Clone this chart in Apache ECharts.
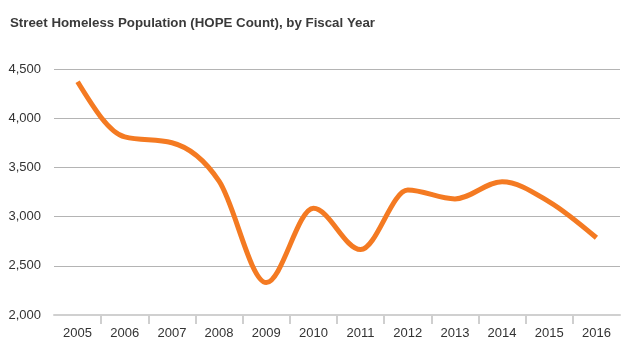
<!DOCTYPE html>
<html><head><meta charset="utf-8">
<script src="https://cdn.jsdelivr.net/npm/echarts@6/dist/echarts.min.js"></script>
<style>html,body{margin:0;padding:0;background:#fff}#c{width:628px;height:357px}</style>
</head><body><div id="c"></div>
<script>
const titleText = 'Street Homeless Population (HOPE Count), by Fiscal Year';
const years = ['2005','2006','2007','2008','2009','2010','2011','2012','2013','2014','2015','2016'];
const homeless = [4370, 3810, 3750, 3360, 2330, 3085, 2665, 3270, 3180, 3355, 3150, 2785];
const yTicks = [2000, 2500, 3000, 3500, 4000, 4500];

const boundaryTicks = years.slice(1).map((_, i) => i + 1);

// Monotone cubic (Fritsch–Carlson style) path through the library-mapped points
function monotonePath(pts) {
  const n = pts.length;
  const s = [], h = [];
  for (let i = 0; i < n - 1; i++) {
    h[i] = pts[i + 1][0] - pts[i][0];
    s[i] = (pts[i + 1][1] - pts[i][1]) / h[i];
  }
  const t = new Array(n).fill(0);
  for (let i = 1; i < n - 1; i++) {
    const s0 = s[i - 1], s1 = s[i];
    const p = (s0 * h[i] + s1 * h[i - 1]) / (h[i - 1] + h[i]);
    t[i] = (Math.sign(s0) + Math.sign(s1)) * Math.min(Math.abs(s0), Math.abs(s1), 0.5 * Math.abs(p)) || 0;
  }
  t[0] = (3 * s[0] - t[1]) / 2;
  t[n - 1] = (3 * s[n - 2] - t[n - 2]) / 2;
  let d = 'M' + pts[0][0] + ',' + pts[0][1];
  for (let i = 0; i < n - 1; i++) {
    const dx = h[i] / 3;
    d += ' C' + (pts[i][0] + dx) + ',' + (pts[i][1] + dx * t[i]) + ' ' +
         (pts[i + 1][0] - dx) + ',' + (pts[i + 1][1] - dx * t[i + 1]) + ' ' +
         pts[i + 1][0] + ',' + pts[i + 1][1];
  }
  return d;
}

const chart = echarts.init(document.getElementById('c'), null, {renderer: 'canvas'});
chart.setOption({
  animation: false,
  title: {
    text: titleText, left: 10, top: 17, padding: 0,
    textStyle: {fontFamily: 'Liberation Sans, Arial, sans-serif', fontSize: 13.3, fontWeight: 'bold', color: '#3a3a3a'}
  },
  grid: {left: 54, right: 8, top: 69, bottom: 42, containLabel: false},
  xAxis: [{
    type: 'category', data: years, boundaryGap: true,
    axisLine: {show: true, lineStyle: {color: '#d0d0d0', width: 2}},
    axisTick: {show: false},
    axisLabel: {margin: 12, fontFamily: 'Liberation Sans, Arial, sans-serif', fontSize: 13, color: '#333'}
  }, {
    type: 'value', position: 'bottom', min: 0, max: years.length,
    axisLine: {show: false}, splitLine: {show: false},
    axisLabel: {show: false},
    axisTick: {show: true, length: 9, customValues: boundaryTicks, lineStyle: {color: '#cfcfcf', width: 2}}
  }],
  yAxis: {
    type: 'value', min: yTicks[0], max: yTicks[yTicks.length - 1], interval: 500,
    axisLine: {show: false}, axisTick: {show: false},
    splitLine: {lineStyle: {color: '#b4b4b4', width: 1}},
    axisLabel: {margin: 13, fontFamily: 'Liberation Sans, Arial, sans-serif', fontSize: 13, color: '#333',
      formatter: v => v.toLocaleString('en-US')}
  },
  series: [{
    type: 'custom', xAxisIndex: 0, yAxisIndex: 0,
    data: homeless.map((v, i) => [i, v]),
    encode: {x: 0, y: 1},
    renderItem: function (params, api) {
      if (params.dataIndex !== 0) return null;
      const pts = homeless.map((v, i) => api.coord([i, v]));
      return {
        type: 'path',
        shape: {pathData: monotonePath(pts)},
        style: {fill: 'none', stroke: '#f47a22', lineWidth: 5, lineCap: 'butt', lineJoin: 'round'}
      };
    }
  }]
});
</script></body></html>
